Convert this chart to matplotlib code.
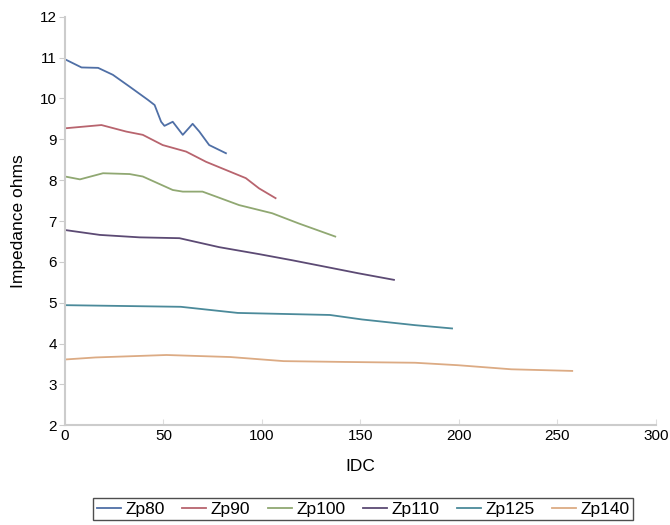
import matplotlib
matplotlib.use("Agg")
import matplotlib.pyplot as plt

plt.rcParams['font.family'] = ['Liberation Sans', 'DejaVu Sans']

# Impedance vs DC current for each core size
zp80_x = [0, 8.4, 16.8, 24.3, 32.8, 42, 45.5, 48.8, 50.5, 54.7, 59.8, 64.8, 68.2, 73.2, 81.7]
zp80_y = [10.96, 10.76, 10.75, 10.58, 10.29, 9.97, 9.84, 9.43, 9.33, 9.43, 9.11, 9.38, 9.19, 8.86, 8.66]

zp90_x = [0, 18.5, 31.1, 39.5, 49.6, 61.5, 71.6, 81.7, 91.8, 98.5, 106.9]
zp90_y = [9.27, 9.35, 9.19, 9.11, 8.86, 8.70, 8.45, 8.25, 8.05, 7.80, 7.56]

zp100_x = [0, 7.6, 19.3, 32.8, 39.5, 54.7, 59.8, 69.8, 76.6, 88.4, 105.2, 118.7, 137.2]
zp100_y = [8.09, 8.02, 8.17, 8.15, 8.09, 7.76, 7.72, 7.72, 7.60, 7.39, 7.19, 6.94, 6.62]

zp110_x = [0, 17.7, 37.9, 58.1, 78.3, 98.5, 115.3, 132.2, 149, 167]
zp110_y = [6.78, 6.66, 6.60, 6.58, 6.36, 6.19, 6.04, 5.88, 5.72, 5.56]

zp125_x = [0, 58.8, 87.7, 134.5, 150.8, 177.8, 196.5]
zp125_y = [4.94, 4.90, 4.75, 4.70, 4.59, 4.45, 4.37]

zp140_x = [0, 15.5, 51.5, 84, 111, 141.8, 177.8, 199.5, 226.6, 257.5]
zp140_y = [3.61, 3.66, 3.72, 3.67, 3.57, 3.55, 3.53, 3.47, 3.37, 3.33]

series = [
    ("Zp80", zp80_x, zp80_y, "#4f6fa6"),
    ("Zp90", zp90_x, zp90_y, "#b8646e"),
    ("Zp100", zp100_x, zp100_y, "#90a872"),
    ("Zp110", zp110_x, zp110_y, "#5c4a74"),
    ("Zp125", zp125_x, zp125_y, "#4b8a9a"),
    ("Zp140", zp140_x, zp140_y, "#dcab84"),
]

x_ticks = [0, 50, 100, 150, 200, 250, 300]
y_ticks = [2, 3, 4, 5, 6, 7, 8, 9, 10, 11, 12]

fig = plt.figure(figsize=(6.7, 5.25), dpi=100)
ax = fig.add_axes([0.097, 0.19, 0.882, 0.778])

for name, xs, ys, col in series:
    ax.plot(xs, ys, color=col, lw=1.3, label=name, solid_joinstyle='round')

ax.set_xlim(0, 300)
ax.set_ylim(2, 12)
ax.set_xticks(x_ticks)
ax.set_yticks(y_ticks)

for s in ("top", "right"):
    ax.spines[s].set_visible(False)
for s in ("left", "bottom"):
    ax.spines[s].set_color("#cccccc")
    ax.spines[s].set_linewidth(1.5)

ax.tick_params(axis='y', direction='out', length=4, color='#cccccc', labelsize=11, pad=2)
ax.tick_params(axis='x', direction='in', length=4, color='#dddddd', labelsize=11, pad=3)

ax.set_xlabel("IDC", fontsize=12.5, labelpad=11)
ax.set_ylabel("Impedance ohms", fontsize=12.5, labelpad=10)

leg = fig.legend(loc='center', bbox_to_anchor=(0.542, 0.030), ncol=6,
                 frameon=True, fancybox=False, fontsize=12.5,
                 handlelength=1.4, handletextpad=0.25, columnspacing=1.0,
                 borderpad=0.2, borderaxespad=0)
leg.get_frame().set_edgecolor('#222222')
leg.get_frame().set_linewidth(1.0)

fig.savefig("out.png", dpi=100)
